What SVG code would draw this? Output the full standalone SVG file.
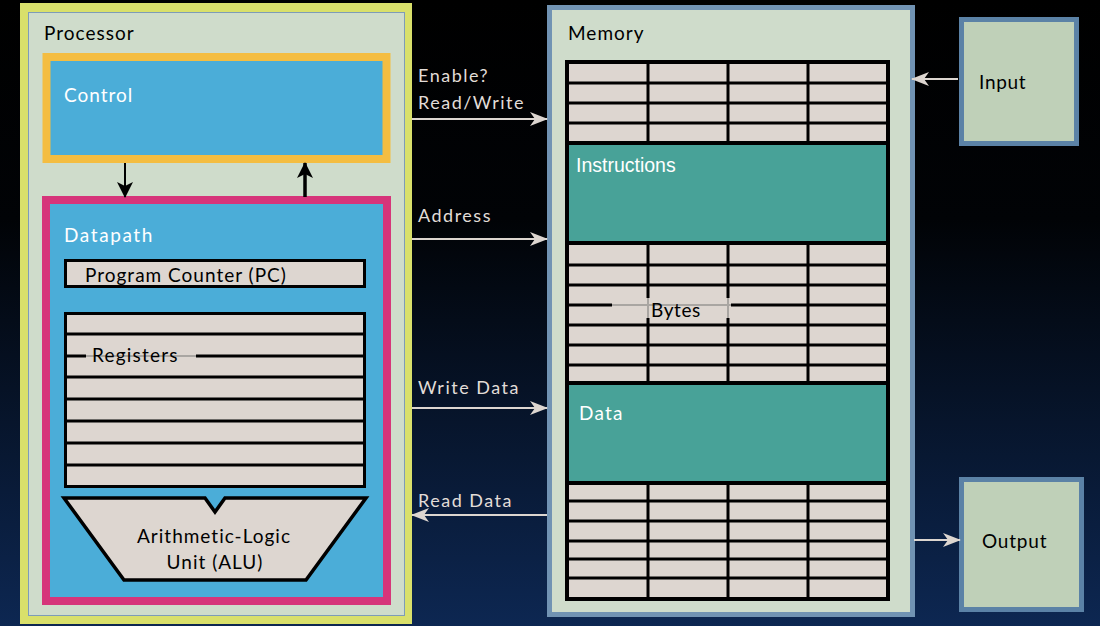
<svg xmlns="http://www.w3.org/2000/svg" width="1100" height="626" viewBox="0 0 1100 626">
<defs>
<linearGradient id="bg" x1="0" y1="0" x2="0" y2="1">
<stop offset="0" stop-color="#000000"/>
<stop offset="0.35" stop-color="#010306"/>
<stop offset="1" stop-color="#0d2752"/>
</linearGradient>
<marker id="ah" viewBox="0 0 18 14" refX="17" refY="7" markerWidth="18" markerHeight="14" markerUnits="userSpaceOnUse" orient="auto">
<path d="M0,0 L18,7 L0,14 L5,7 Z" fill="#ddd6d0"/>
</marker>
<marker id="bh" viewBox="0 0 16 16" refX="15" refY="8" markerWidth="16" markerHeight="16" markerUnits="userSpaceOnUse" orient="auto">
<path d="M0,0 L16,8 L0,16 L4,8 Z" fill="#000"/>
</marker>
<style>
text{font-variant-ligatures:none;}
.t{font-family:Lato,"Open Sans","Liberation Sans",sans-serif;font-size:19px;letter-spacing:1px;}
.w{fill:#ffffff;}
.k{fill:#000000;}
.lab{fill:#e2ddd8;font-family:Lato,"Open Sans","Liberation Sans",sans-serif;font-size:18px;letter-spacing:1.5px;}
.gl{stroke:#000;stroke-width:3;}
.gg{stroke:#a9a6a2;stroke-width:2;}
.bus{stroke:#ddd6d0;stroke-width:2;fill:none;marker-end:url(#ah);}
</style>
</defs>
<rect x="0" y="0" width="1100" height="626" fill="url(#bg)"/>

<g id="processor">
<rect x="20" y="3" width="392" height="621" fill="#d9e06b"/>
<rect x="28.5" y="12.5" width="376" height="603" fill="#cfdccb" stroke="#7e9cb8" stroke-width="1"/>
<text class="t k" x="44" y="40">Processor</text>
</g>

<g id="control">
<rect x="46.5" y="57" width="340" height="102" fill="#4badd8" stroke="#f4bd41" stroke-width="8"/>
<text class="t w" x="64" y="102" font-size="20">Control</text>
</g>

<g id="datapath">
<rect x="46" y="200" width="341" height="401" fill="#4badd8" stroke="#d6357a" stroke-width="8"/>
<text class="t w" x="64" y="242" style="letter-spacing:1.6px">Datapath</text>
</g>

<g id="pc">
<rect x="65.5" y="260.5" width="299" height="26" fill="#ddd6d0" stroke="#000" stroke-width="3"/>
<text class="t k" x="85" y="282">Program Counter (PC)</text>
</g>

<g id="registers">
<rect x="65.5" y="313.5" width="299" height="173" fill="#ddd6d0" stroke="#000" stroke-width="3"/>
<line class="gl" x1="65" y1="334" x2="365" y2="334"/>
<line class="gl" x1="65" y1="356" x2="86" y2="356"/>
<line class="gg" x1="86" y1="356" x2="196" y2="356"/>
<line class="gl" x1="196" y1="356" x2="365" y2="356"/>
<line class="gl" x1="65" y1="377" x2="365" y2="377"/>
<line class="gl" x1="65" y1="399" x2="365" y2="399"/>
<line class="gl" x1="65" y1="421" x2="365" y2="421"/>
<line class="gl" x1="65" y1="443" x2="365" y2="443"/>
<line class="gl" x1="65" y1="465" x2="365" y2="465"/>
<text class="t k" x="92" y="362" style="letter-spacing:1.2px">Registers</text>
</g>

<g id="alu">
<path d="M64,498 L205,498 L215,512 L225,498 L366,498 L306,580 L124,580 Z" fill="#ddd6d0" stroke="#000" stroke-width="3.5" stroke-linejoin="miter"/>
<text class="t k" x="214" y="543" text-anchor="middle">Arithmetic-Logic</text>
<text class="t k" x="215" y="569" text-anchor="middle">Unit (ALU)</text>
</g>

<g id="memory">
<rect x="549.5" y="7.5" width="363" height="607" fill="#cfdccb" stroke="#7193b3" stroke-width="5"/>
<text class="t k" x="568" y="40">Memory</text>
<rect x="567" y="62" width="321" height="537" fill="#ddd6d0" stroke="#000" stroke-width="4"/>
<g>
<line class="gl" x1="567" y1="83" x2="888" y2="83"/>
<line class="gl" x1="567" y1="103" x2="888" y2="103"/>
<line class="gl" x1="567" y1="123" x2="888" y2="123"/>
<line class="gl" x1="648" y1="62" x2="648" y2="143"/>
<line class="gl" x1="728" y1="62" x2="728" y2="143"/>
<line class="gl" x1="808" y1="62" x2="808" y2="143"/>

<line class="gl" x1="567" y1="265" x2="888" y2="265"/>
<line class="gl" x1="567" y1="285" x2="888" y2="285"/>
<line class="gl" x1="567" y1="305" x2="612" y2="305"/>
<line class="gg" x1="612" y1="305" x2="731" y2="305"/>
<line class="gl" x1="731" y1="305" x2="888" y2="305"/>
<line class="gl" x1="567" y1="325" x2="888" y2="325"/>
<line class="gl" x1="567" y1="345" x2="888" y2="345"/>
<line class="gl" x1="567" y1="365" x2="888" y2="365"/>
<line class="gl" x1="648" y1="243" x2="648" y2="298"/>
<line class="gg" x1="648" y1="298" x2="648" y2="318"/>
<line class="gl" x1="648" y1="318" x2="648" y2="383"/>
<line class="gl" x1="728" y1="243" x2="728" y2="298"/>
<line class="gg" x1="728" y1="298" x2="728" y2="318"/>
<line class="gl" x1="728" y1="318" x2="728" y2="383"/>
<line class="gl" x1="808" y1="243" x2="808" y2="383"/>

<line class="gl" x1="567" y1="501" x2="888" y2="501"/>
<line class="gl" x1="567" y1="521" x2="888" y2="521"/>
<line class="gl" x1="567" y1="541" x2="888" y2="541"/>
<line class="gl" x1="567" y1="559" x2="888" y2="559"/>
<line class="gl" x1="567" y1="578" x2="888" y2="578"/>
<line class="gl" x1="648" y1="483" x2="648" y2="599"/>
<line class="gl" x1="728" y1="483" x2="728" y2="599"/>
<line class="gl" x1="808" y1="483" x2="808" y2="599"/>
</g>
<text class="t k" x="651" y="317" style="letter-spacing:0.6px">Bytes</text>
</g>

<g id="instructions">
<rect x="567" y="143" width="321" height="100" fill="#48a298" stroke="#000" stroke-width="4"/>
<text x="576" y="172" fill="#ffffff" font-family="'Liberation Sans',Arial,sans-serif" font-size="19.5">Instructions</text>
</g>

<g id="data">
<rect x="567" y="383" width="321" height="100" fill="#48a298" stroke="#000" stroke-width="4"/>
<text class="t w" x="579" y="420" style="letter-spacing:1.2px">Data</text>
</g>

<g id="input">
<rect x="961.5" y="19.5" width="115" height="124" fill="#bfd0b8" stroke="#5b82a6" stroke-width="5"/>
<text class="t k" x="979" y="89" style="letter-spacing:0.7px">Input</text>
</g>

<g id="output">
<rect x="961.5" y="479.5" width="120" height="130" fill="#bfd0b8" stroke="#5b82a6" stroke-width="5"/>
<text class="t k" x="982" y="548" style="letter-spacing:0.8px">Output</text>
</g>

<g id="connectors">
<line x1="125" y1="163" x2="125" y2="197" stroke="#000" stroke-width="2" marker-end="url(#bh)"/>
<line x1="305" y1="197" x2="305" y2="163" stroke="#000" stroke-width="3.5" marker-end="url(#bh)"/>
<line class="bus" x1="412" y1="119" x2="547" y2="119"/>
<line class="bus" x1="412" y1="239" x2="547" y2="239"/>
<line class="bus" x1="412" y1="408" x2="547" y2="408"/>
<line class="bus" x1="547" y1="515" x2="412" y2="515"/>
<line class="bus" x1="958" y1="79" x2="912" y2="79"/>
<line class="bus" x1="914" y1="540" x2="960" y2="540"/>
<text class="lab" x="418" y="82">Enable?</text>
<text class="lab" x="418" y="109">Read/Write</text>
<text class="lab" x="418" y="222">Address</text>
<text class="lab" x="418" y="394">Write Data</text>
<text class="lab" x="418" y="507">Read Data</text>
</g>
</svg>
